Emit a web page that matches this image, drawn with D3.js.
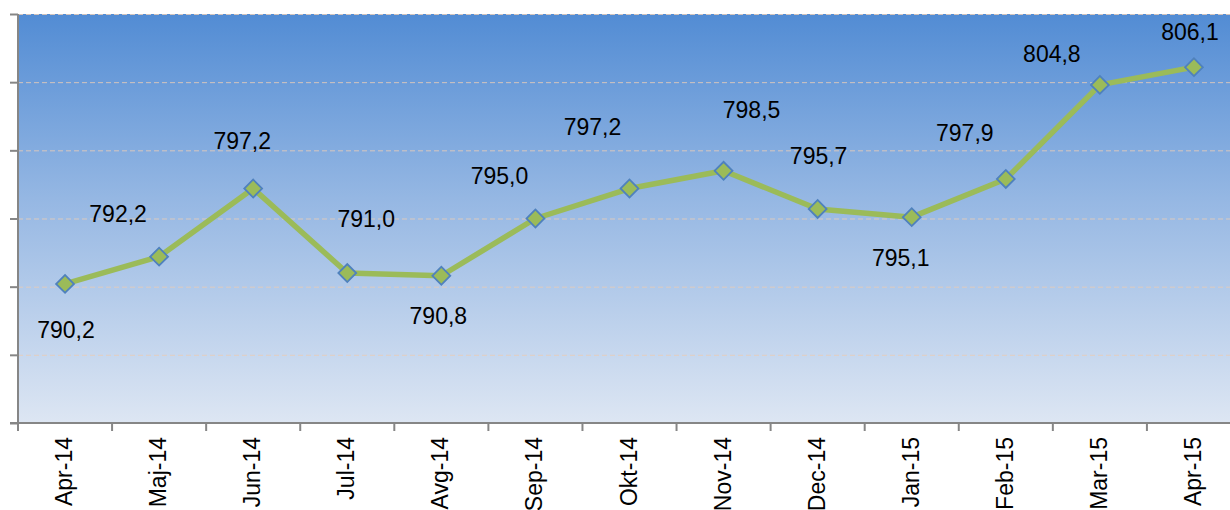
<!DOCTYPE html>
<html lang="en">
<head>
<meta charset="UTF-8">
<title>Line chart</title>
<script src="https://d3js.org/d3.v7.min.js"></script>
<style>
  body { margin: 0; background: #fff; }
  svg { display: block; font-family: "Liberation Sans", Arial, sans-serif; }
</style>
</head>
<body>
<svg id="chart"></svg>
<script>
// data
const months = ["Apr-14", "Maj-14", "Jun-14", "Jul-14", "Avg-14", "Sep-14", "Okt-14",
                "Nov-14", "Dec-14", "Jan-15", "Feb-15", "Mar-15", "Apr-15"];
const values = [790.2, 792.2, 797.2, 791.0, 790.8, 795.0, 797.2, 798.5, 795.7, 795.1, 797.9, 804.8, 806.1];
const yTicks = [780, 785, 790, 795, 800, 805, 810];

// label offsets from each point (layout only)
const labelDx = [1, -41, -11, 19, -3, -36, -37, 28, 1, -11, -41, -48, -4];
const labelDy = [46, -43, -48, -54, 40, -43, -62, -61, -53, 41, -46, -31, -35];

const W = 1230, H = 510;
const plotLeft = 18, plotTop = 14, plotBottom = 423, plotRight = 1241;

const svg = d3.select("#chart").attr("width", W).attr("height", H);

const x = d3.scaleBand().domain(months).range([plotLeft, plotRight]);
const y = d3.scaleLinear().domain([780, 810]).range([plotBottom, plotTop]);

// background gradient
const grad = svg.append("defs").append("linearGradient")
    .attr("id", "bg").attr("x1", 0).attr("y1", 0).attr("x2", 0).attr("y2", 1);
grad.append("stop").attr("offset", "0%").attr("stop-color", "#528cd4");
grad.append("stop").attr("offset", "45%").attr("stop-color", "#95b7e3");
grad.append("stop").attr("offset", "100%").attr("stop-color", "#dde6f3");

svg.append("rect")
    .attr("x", plotLeft).attr("y", plotTop)
    .attr("width", plotRight - plotLeft).attr("height", plotBottom - plotTop)
    .attr("fill", "url(#bg)");

// gridlines
svg.append("g").selectAll("line")
  .data(yTicks.filter(d => d > 780))
  .join("line")
    .attr("x1", plotLeft).attr("x2", plotRight)
    .attr("y1", d => y(d) + 0.5).attr("y2", d => y(d) + 0.5)
    .attr("stroke", "#e6cdb8")
    .attr("stroke-opacity", 0.85)
    .attr("stroke-width", 1)
    .attr("stroke-dasharray", "5,3");

// y axis (no labels)
const yAxis = svg.append("g")
    .attr("transform", `translate(${plotLeft},0)`)
    .call(d3.axisLeft(y).tickValues(yTicks).tickSize(8).tickFormat(""));
yAxis.selectAll("path, line").attr("stroke", "#868686").attr("stroke-width", 2);
yAxis.select(".domain").attr("d", `M0,${plotTop}V${plotBottom}`);

// x axis: ticks at category boundaries
const xg = svg.append("g").attr("transform", `translate(0,${plotBottom})`);
xg.append("line")
    .attr("x1", plotLeft - 8).attr("x2", plotRight)
    .attr("stroke", "#868686").attr("stroke-width", 2);
xg.selectAll(".tk")
  .data(months)
  .join("line")
    .attr("class", "tk")
    .attr("x1", d => x(d)).attr("x2", d => x(d))
    .attr("y1", 0).attr("y2", 8)
    .attr("stroke", "#868686").attr("stroke-width", 2);
xg.selectAll("text")
  .data(months)
  .join("text")
    .attr("transform", d => `translate(${x(d) + x.bandwidth() / 2 + 7},14) rotate(-90)`)
    .attr("text-anchor", "end")
    .attr("font-size", 23)
    .attr("fill", "#000")
    .text(d => d);

// line
const line = d3.line()
    .x((d, i) => x(months[i]) + x.bandwidth() / 2)
    .y(d => y(d));

svg.append("path")
    .datum(values)
    .attr("d", line)
    .attr("fill", "none")
    .attr("stroke", "#9bbb59")
    .attr("stroke-width", 5.5)
    .attr("stroke-linejoin", "round");

// markers
svg.append("g").selectAll("path")
  .data(values)
  .join("path")
    .attr("transform", (d, i) => `translate(${x(months[i]) + x.bandwidth() / 2},${y(d)}) rotate(45)`)
    .attr("d", "M-6.3,-6.3H6.3V6.3H-6.3Z")
    .attr("fill", "#9bbb59")
    .attr("stroke", "#4f81bd")
    .attr("stroke-width", 1.8);

// value labels
svg.append("g").selectAll("text")
  .data(values)
  .join("text")
    .attr("x", (d, i) => x(months[i]) + x.bandwidth() / 2 + labelDx[i])
    .attr("y", (d, i) => y(d) + labelDy[i])
    .attr("dy", "0.35em")
    .attr("text-anchor", "middle")
    .attr("font-size", 23)
    .attr("fill", "#000")
    .text(d => d.toFixed(1).replace(".", ","));
</script>
</body>
</html>
